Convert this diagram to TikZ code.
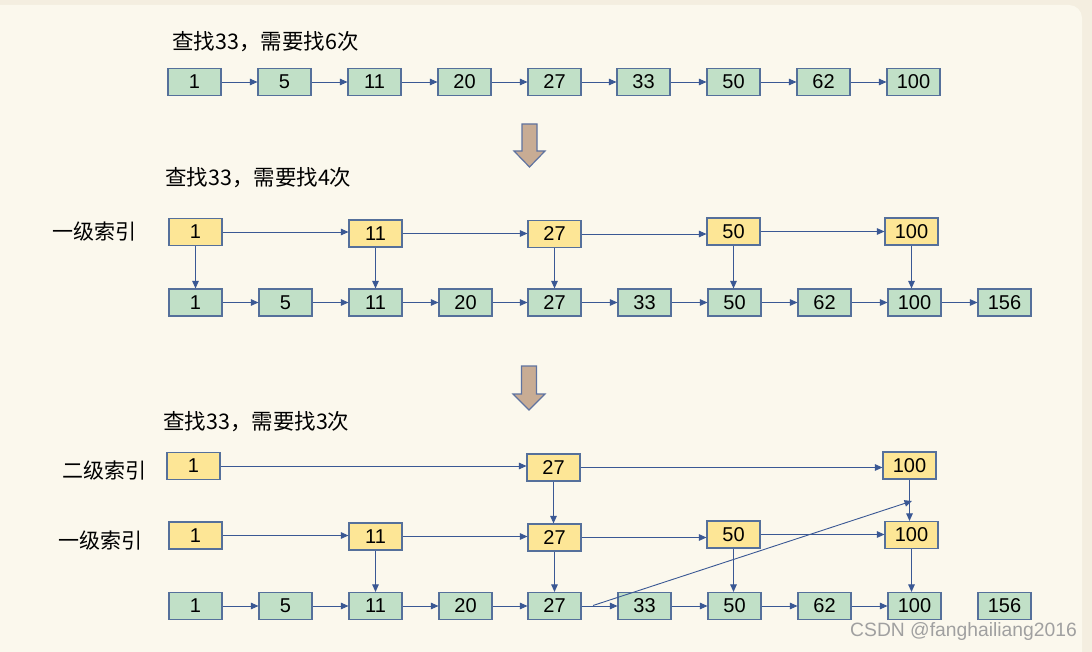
\documentclass[tikz,border=0pt]{standalone}
\usepackage{fontspec}
\setmainfont{Liberation Sans}
\newfontfamily\cjk{Noto Sans CJK SC}
\usetikzlibrary{arrows.meta}
\definecolor{outerbg}{RGB}{244,238,224}
\definecolor{innerbg}{RGB}{251,248,237}
\definecolor{gfill}{RGB}{193,224,199}
\definecolor{yfill}{RGB}{253,230,150}
\definecolor{boxline}{RGB}{85,112,155}
\definecolor{arrowc}{RGB}{58,88,148}
\definecolor{bigfill}{RGB}{200,172,148}
\definecolor{bigline}{RGB}{95,115,160}
\definecolor{wmark}{RGB}{160,160,160}
\tikzset{
  box/.style={draw=boxline, line width=1.1pt, minimum width=53pt, minimum height=27pt, inner sep=0pt, font=\fontsize{20}{23}\selectfont},
  gbox/.style={box, fill=gfill},
  ybox/.style={box, fill=yfill},
  link/.style={draw=arrowc, line width=0.9pt, -{Triangle[length=7.5pt,width=6.5pt]}},
  title/.style={anchor=west, inner sep=0pt, font=\cjk\fontsize{21.5}{25}\selectfont},
  lvl/.style={anchor=west, inner sep=0pt, font=\cjk\fontsize{21}{24}\selectfont},
  bigarrow/.style={fill=bigfill, draw=bigline, line width=1.2pt, line join=miter},
}
\begin{document}
\begin{tikzpicture}[x=1pt,y=-1pt]
\useasboundingbox (0,0) rectangle (1092,652);
\fill[outerbg] (0,0) rectangle (1092,652);
\fill[innerbg, rounded corners=13pt] (-20,5) rectangle (1082,690);

% ---------- part 1 ----------
\node[title] (t1) at (172,42) {查找33，需要找6次};
\foreach \v/\x [count=\i] in {1/194.5,5/284.5,11/374.5,20/464.5,27/554.5,33/643.5,50/733.5,62/823.5,100/913.5}
  \node[gbox] (a\i) at (\x,82) {\v};
\foreach \i [evaluate=\i as \j using int(\i+1)] in {1,...,8}
  \draw[link] (a\i.east) -- (a\j.west);

% big arrow 1
\draw[bigarrow] (522,124) -- (537,124) -- (537,151) -- (545,151) -- (529.5,167) -- (514,151) -- (522,151) -- cycle;

% ---------- part 2 ----------
\node[title] (t2) at (165,178) {查找33，需要找4次};
\node[lvl] (l2a) at (52,232) {一级索引};
\node[ybox] (b1) at (195.5,232) {1};
\node[ybox] (b2) at (375.5,233.5) {11};
\node[ybox] (b3) at (554.5,234) {27};
\node[ybox] (b4) at (733.5,231.5) {50};
\node[ybox] (b5) at (911.5,231.5) {100};
\foreach \v/\x [count=\i] in {1/195.5,5/285.5,11/375.5,20/465.5,27/554.5,33/644.5,50/734.5,62/824.5,100/914.5,156/1004.5}
  \node[gbox] (c\i) at (\x,302.5) {\v};
\foreach \i [evaluate=\i as \j using int(\i+1)] in {1,...,9}
  \draw[link] (c\i.east) -- (c\j.west);
\foreach \a/\b in {b1/b2,b2/b3,b3/b4,b4/b5}
  \draw[link] (\a.east) -- (\a.east -| \b.west);
\foreach \a/\b in {b1/c1,b2/c3,b3/c5,b4/c7,b5/c9}
  \draw[link] (\a.south) -- (\a.south |- \b.north);

% big arrow 2
\draw[bigarrow] (521.5,366) -- (536.5,366) -- (536.5,394) -- (545,394) -- (529,410) -- (513,394) -- (521.5,394) -- cycle;

% ---------- part 3 ----------
\node[title] (t3) at (163,422) {查找33，需要找3次};
\node[lvl] (l3b) at (62,471) {二级索引};
\node[lvl] (l3a) at (58,541) {一级索引};
\node[ybox] (d1) at (193.5,466) {1};
\node[ybox] (d2) at (553.5,467.5) {27};
\node[ybox] (d3) at (909.5,465.5) {100};
\node[ybox] (e1) at (195.5,535.5) {1};
\node[ybox] (e2) at (375.5,536.5) {11};
\node[ybox] (e3) at (554.5,537.5) {27};
\node[ybox] (e4) at (733.5,534.5) {50};
\node[ybox] (e5) at (911.5,535) {100};
\foreach \v/\x [count=\i] in {1/195.5,5/285.5,11/375.5,20/465.5,27/554.5,33/644.5,50/734.5,62/824.5,100/914.5,156/1004.5}
  \node[gbox] (f\i) at (\x,606) {\v};
\foreach \i [evaluate=\i as \j using int(\i+1)] in {1,...,8}
  \draw[link] (f\i.east) -- (f\j.west);
\foreach \a/\b in {d1/d2,d2/d3}
  \draw[link] (\a.east) -- (\a.east -| \b.west);
\foreach \a/\b in {e1/e2,e2/e3,e3/e4,e4/e5}
  \draw[link] (\a.east) -- (\a.east -| \b.west);
\draw[link] (d2.south) -- (d2.south |- e3.north);
\draw[link] (d3.south) -- (d3.south |- e5.north);
\foreach \a/\b in {e2/f3,e3/f5,e4/f7,e5/f9}
  \draw[link] (\a.south) -- (\a.south |- \b.north);
\coordinate (ds) at (593,605.5);
\coordinate (de) at (912,501);
\draw[link] (ds) -- (de);

% watermark
\node[anchor=west, inner sep=0pt, text=wmark, font=\fontsize{19.3}{22}\selectfont] (wm) at (850,632) {CSDN @fanghailiang2016};
\end{tikzpicture}
\end{document}
